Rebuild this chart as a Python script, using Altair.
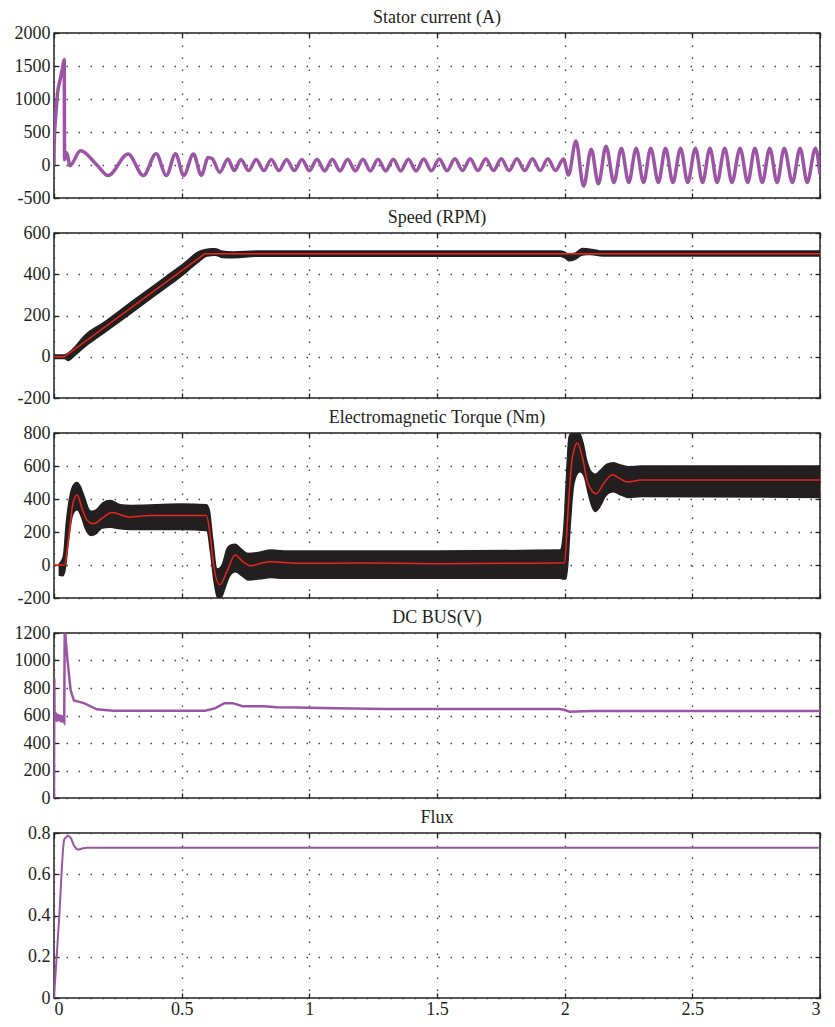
import altair as alt
import pandas as pd

# ---------------- data ----------------
# Stator current (A)
stator_t = [0, 0.0005, 0.0077, 0.014, 0.024, 0.033, 0.040, 0.0415, 0.047, 0.053, 0.062,
            0.104, 0.168, 0.212, 0.290, 0.350, 0.400, 0.440, 0.476, 0.508, 0.546, 0.577,
            0.604, 0.620, 0.649, 0.681, 0.706,
            0.732, 0.762, 0.792, 0.822, 0.851, 0.881, 0.911, 0.941, 0.971, 1.000,
            1.030, 1.060, 1.090, 1.120, 1.150, 1.180, 1.210, 1.239, 1.269, 1.299,
            1.329, 1.358, 1.388, 1.418, 1.448, 1.478, 1.509, 1.539, 1.570, 1.600,
            1.630, 1.660, 1.691, 1.721, 1.752, 1.782, 1.813, 1.843, 1.874, 1.904,
            1.934, 1.964, 1.995,
            2.015, 2.044, 2.074, 2.104, 2.132, 2.162, 2.193, 2.222, 2.251, 2.280,
            2.309, 2.337, 2.367, 2.395, 2.424, 2.454, 2.482, 2.512, 2.540, 2.569,
            2.597, 2.627, 2.655, 2.687, 2.717, 2.745, 2.774, 2.803, 2.832, 2.860,
            2.892, 2.922, 2.950, 2.982, 3.0]
stator_a = [0, 300, 790, 1090, 1290, 1465, 1600, 80, 190, 150, -10,
            215, 0, -160, 165, -160, 170, -160, 170, -160, 165, -155,
            115, 95, -110, 90, -85,
            85, -85, 85, -85, 85, -85, 85, -85, 85, -88,
            88, -90, 88, -90, 88, -90, 88, -90, 88, -90,
            88, -90, 88, -90, 90, -88, 92, -86, 95, -85,
            95, -85, 95, -85, 95, -85, 95, -85, 95, -85,
            95, -85, 90,
            -150, 365, -320, 240, -285, 285, -265, 255, -265, 255,
            -265, 255, -265, 255, -265, 255, -265, 255, -265, 255,
            -265, 255, -265, 255, -265, 255, -265, 255, -265, 255,
            -265, 255, -265, 255, -140]

# Speed (RPM)
speed_ref_t = [0, 0.04, 0.591, 3.0]
speed_ref_v = [0, 0, 500, 500]
speed_band_t = [0, 0.04, 0.055, 0.08, 0.117, 0.2, 0.3, 0.4, 0.5, 0.57, 0.6, 0.63, 0.66,
                0.7, 0.75, 0.8, 1.98, 2.0, 2.015, 2.04, 2.07, 2.1, 2.15, 3.0]
speed_band_lo = [-12, -12, -22, 0, 40, 115, 205, 297, 388, 460, 485, 488, 478,
                 476, 480, 484, 484, 476, 462, 468, 490, 492, 485, 485]
speed_band_hi = [12, 12, 22, 50, 104, 175, 268, 358, 448, 515, 525, 527, 515,
                 512, 514, 516, 516, 512, 502, 506, 528, 525, 516, 516]

# Electromagnetic torque (Nm)
torque_t = [0, 0.04, 0.06, 0.075, 0.091, 0.11, 0.13, 0.155, 0.19, 0.226, 0.26, 0.296,
            0.373, 0.597, 0.61, 0.625, 0.649, 0.68, 0.709, 0.74, 0.77, 0.81, 0.847,
            0.95, 1.2, 1.5, 1.8, 2.0, 2.012, 2.03, 2.05, 2.07, 2.09, 2.123, 2.155,
            2.187, 2.215, 2.245, 2.3, 3.0]
torque_v = [0, 0, 200, 380, 425, 340, 270, 250, 285, 318, 305, 290,
            300, 300, 200, 0, -120, -30, 60, 20, -5, 10, 20,
            10, 12, 8, 10, 14, 300, 650, 740, 650, 500, 432, 500,
            547, 525, 503, 515, 515]
torque_band_t = [0.018, 0.035, 0.045, 0.06, 0.075, 0.09, 0.105, 0.12, 0.145, 0.165,
                 0.19, 0.22, 0.26, 0.30, 0.40, 0.50, 0.597, 0.61, 0.625, 0.64,
                 0.655, 0.675, 0.69, 0.71, 0.735, 0.76, 0.80, 0.85, 0.90, 1.20,
                 1.50, 1.982, 1.995, 2.005, 2.015, 2.025, 2.04, 2.06, 2.075, 2.09,
                 2.105, 2.12, 2.14, 2.165, 2.19, 2.22, 2.25, 2.30, 3.0]
torque_band_lo = [-65, -70, -40, 150, 300, 330, 290, 220, 175, 185,
                  220, 225, 215, 210, 210, 210, 205, 80, -110, -200,
                  -200, -130, -70, -45, -70, -95, -90, -80, -85, -85,
                  -85, -85, -90, -90, 0, 250, 500, 560, 530, 430,
                  350, 320, 350, 420, 440, 420, 405, 410, 405]
torque_band_hi = [10, 60, 250, 420, 490, 505, 480, 420, 330, 340,
                  380, 395, 370, 365, 370, 375, 370, 340, 150, -20,
                  0, 100, 125, 130, 100, 75, 80, 95, 90, 90,
                  90, 95, 250, 550, 780, 800, 800, 800, 740, 630,
                  570, 555, 580, 615, 625, 610, 600, 605, 605]

# DC bus (V)
dc_t = [0, 0.001, 0.002, 0.004, 0.008, 0.012, 0.016, 0.020, 0.024, 0.028,
        0.032, 0.036, 0.040, 0.042, 0.046, 0.053, 0.065, 0.078, 0.117, 0.168,
        0.232, 0.591, 0.63, 0.668, 0.70, 0.738, 0.822, 0.873, 0.95, 1.1,
        1.3, 1.6, 1.98, 2.0, 2.02, 2.1, 3.0]
dc_v = [0, 870, 640, 560, 620, 555, 610, 560, 605, 550,
        600, 560, 550, 1250, 1150, 1000, 785, 710, 690, 645,
        635, 635, 652, 690, 690, 667, 667, 660, 658, 652,
        648, 647, 647, 640, 628, 632, 632]

# Flux
flux_t = [0, 0.02, 0.04, 0.048, 0.056, 0.066, 0.08, 0.094, 0.11, 0.13, 3.0]
flux_v = [0, 0.384, 0.768, 0.78, 0.787, 0.775, 0.735, 0.72, 0.725, 0.729, 0.729]

# axis tick values
x_ticks = [0, 0.5, 1, 1.5, 2, 2.5, 3]
stator_ticks = [-500, 0, 500, 1000, 1500, 2000]
speed_ticks = [-200, 0, 200, 400, 600]
torque_ticks = [-200, 0, 200, 400, 600, 800]
dc_ticks = [0, 200, 400, 600, 800, 1000, 1200]
flux_ticks = [0, 0.2, 0.4, 0.6, 0.8]

# ---------------- styling ----------------
PURPLE = "#9b55a4"
BLACK = "#231f20"
RED = "#e8261c"
FONT = "'Liberation Serif', 'DejaVu Serif', serif"
W, H = 766, 165
TK = 5  # inward tick length

LABEL_EXPR = "toString(datum.value)"
X_SCALE = alt.Scale(domain=[0, 3], nice=False, zero=False)


def x_enc(show_labels):
    axis = alt.Axis(values=x_ticks, labelExpr=LABEL_EXPR, labels=show_labels,
                    ticks=True, tickSize=TK, offset=-TK, tickColor=BLACK, tickWidth=1.3,
                    domain=False, title=None, grid=True, labelPadding=2,
                    minExtent=0, maxExtent=(30 if show_labels else 0))
    return alt.X("t:Q", scale=X_SCALE, axis=axis)


def y_enc(field, domain, ticks):
    return alt.Y(f"{field}:Q",
                 scale=alt.Scale(domain=domain, nice=False, zero=False),
                 axis=alt.Axis(values=ticks, labelExpr=LABEL_EXPR, ticks=True,
                               tickSize=TK, offset=-TK, tickColor=BLACK, tickWidth=1.3,
                               domain=False, title=None, grid=True, labelPadding=4,
                               minExtent=50, maxExtent=50))


def tick_layer(t, v, domain, ticks):
    """Invisible copy that only carries the inward ticks of the top and right edges."""
    df = pd.DataFrame({"t": t, "v": v})
    return alt.Chart(df).mark_line(opacity=0).encode(
        x=alt.X("t:Q", scale=X_SCALE,
                axis=alt.Axis(orient="top", values=x_ticks, labels=False, ticks=True,
                              tickSize=TK, offset=-TK, tickColor=BLACK, tickWidth=1.3,
                              domain=False, grid=False, title=None,
                              minExtent=0, maxExtent=0)),
        y=alt.Y("v:Q", scale=alt.Scale(domain=domain, nice=False, zero=False),
                axis=alt.Axis(orient="right", values=ticks, labels=False, ticks=True,
                              tickSize=TK, offset=-TK, tickColor=BLACK, tickWidth=1.3,
                              domain=False, grid=False, title=None,
                              minExtent=0, maxExtent=0)))


def title(text):
    return alt.TitleParams(text=text, font=FONT, fontSize=18, fontWeight="normal",
                           color=BLACK, offset=-3, anchor="middle")


def line(t, v, domain, ticks, color, width, show_x, interp="linear"):
    df = pd.DataFrame({"t": t, "v": v})
    return alt.Chart(df).mark_line(color=color, strokeWidth=width, clip=True,
                                   interpolate=interp).encode(
        x=x_enc(show_x), y=y_enc("v", domain, ticks))


def band(t, lo, hi, domain, ticks, show_x):
    df = pd.DataFrame({"t": t, "lo": lo, "hi": hi})
    return alt.Chart(df).mark_area(color=BLACK, clip=True, interpolate="monotone").encode(
        x=x_enc(show_x), y=y_enc("lo", domain, ticks), y2="hi:Q")


def panel(main, t, v, domain, ticks, text):
    return alt.layer(main, tick_layer(t, v, domain, ticks)).resolve_scale(
        x="independent", y="independent").properties(width=W, height=H, title=title(text))


p1 = panel(line(stator_t, stator_a, [-500, 2000], stator_ticks, PURPLE, 3.5, False,
                "monotone"),
           stator_t, stator_a, [-500, 2000], stator_ticks, "Stator current (A)")

p2 = panel(alt.layer(
    band(speed_band_t, speed_band_lo, speed_band_hi, [-200, 600], speed_ticks, False),
    line(speed_ref_t, speed_ref_v, [-200, 600], speed_ticks, RED, 1.5, False)),
    speed_ref_t, speed_ref_v, [-200, 600], speed_ticks, "Speed (RPM)")

p3 = panel(alt.layer(
    band(torque_band_t, torque_band_lo, torque_band_hi, [-200, 800], torque_ticks, False),
    line(torque_t, torque_v, [-200, 800], torque_ticks, RED, 1.5, False, "monotone")),
    torque_t, torque_v, [-200, 800], torque_ticks, "Electromagnetic Torque (Nm)")

p4 = panel(line(dc_t, dc_v, [0, 1200], dc_ticks, PURPLE, 2.5, False),
           dc_t, dc_v, [0, 1200], dc_ticks, "DC BUS(V)")

p5 = panel(line(flux_t, flux_v, [0, 0.8], flux_ticks, PURPLE, 2, True, "monotone"),
           flux_t, flux_v, [0, 0.8], flux_ticks, "Flux")

chart = alt.vconcat(p1, p2, p3, p4, p5, spacing=0).properties(
    padding=0, background="white"
).configure_view(
    stroke=BLACK, strokeWidth=1.5
).configure_axis(
    labelFont=FONT, labelFontSize=18, labelColor=BLACK,
    gridColor="#444444", gridDash=[1.5, 10.5], gridWidth=1.3, gridOpacity=1
)

chart.save("out.html", embed_options={"renderer": "svg", "actions": False})
